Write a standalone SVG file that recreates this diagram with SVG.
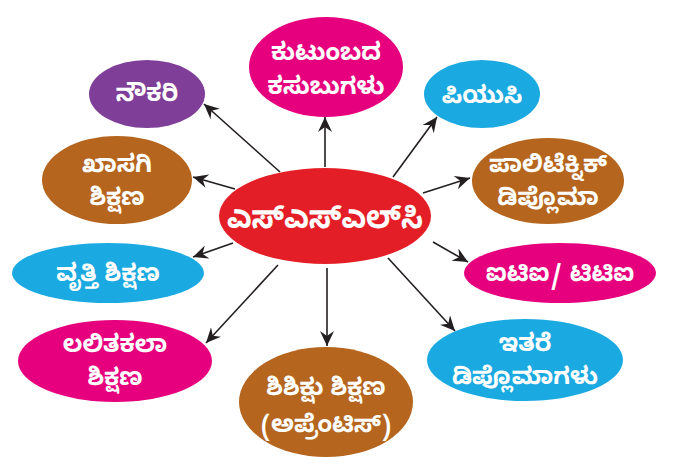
<svg xmlns="http://www.w3.org/2000/svg" width="680" height="472" viewBox="0 0 680 472">
<defs>
<marker id="ah" markerUnits="userSpaceOnUse" markerWidth="16" markerHeight="14" refX="15" refY="7" orient="auto">
<path d="M0,0 L15,7 L0,14 L5,7 Z" fill="#231f20"/>
</marker>
<style>
.t{font-family:"Noto Sans Kannada","Lohit Kannada","Noto Sans","DejaVu Sans",sans-serif;font-weight:bold;fill:#fff;text-anchor:middle;font-size:24px}
.big{font-size:32px}
.c{stroke:#231f20;stroke-width:1.6;fill:none;marker-end:url(#ah)}
.mag{fill:#e6007e}.cy{fill:#1ba9e1}.br{fill:#b5651d}.pu{fill:#7f3f98}.rd{fill:#e41e26}
</style>
</defs>
<rect width="680" height="472" fill="#fff"/>
<g id="connectors">
<line class="c" x1="280" y1="172" x2="204" y2="104"/>
<line class="c" x1="325" y1="167" x2="325" y2="117"/>
<line class="c" x1="393" y1="177" x2="437" y2="117"/>
<line class="c" x1="235" y1="189" x2="193" y2="177"/>
<line class="c" x1="423" y1="193" x2="470" y2="178"/>
<line class="c" x1="233" y1="243" x2="193" y2="257"/>
<line class="c" x1="433" y1="242" x2="468" y2="262"/>
<line class="c" x1="278" y1="265" x2="206" y2="343"/>
<line class="c" x1="327" y1="268" x2="327" y2="346"/>
<line class="c" x1="388" y1="258" x2="455" y2="331"/>
</g>
<g id="sslc">
<ellipse class="rd" cx="325" cy="216" rx="106" ry="48"/>
<text class="t big" x="325" y="228" textLength="196" lengthAdjust="spacingAndGlyphs">ಎಸ್‌ಎಸ್‌ಎಲ್‌ಸಿ</text>
</g>
<g id="kutumba">
<ellipse class="mag" cx="326" cy="67" rx="77" ry="50"/>
<text class="t" x="326" y="60">ಕುಟುಂಬದ</text>
<text class="t" x="326" y="94">ಕಸುಬುಗಳು</text>
</g>
<g id="naukari">
<ellipse class="pu" cx="147" cy="94" rx="58" ry="34"/>
<text class="t" x="147" y="101">ನೌಕರಿ</text>
</g>
<g id="puc">
<ellipse class="cy" cx="482" cy="94" rx="58" ry="34"/>
<text class="t" x="482" y="103">ಪಿಯುಸಿ</text>
</g>
<g id="khasagi">
<ellipse class="br" cx="117" cy="180" rx="75" ry="44"/>
<text class="t" x="117" y="172">ಖಾಸಗಿ</text>
<text class="t" x="117" y="205">ಶಿಕ್ಷಣ</text>
</g>
<g id="polytechnic">
<ellipse class="br" cx="548" cy="181" rx="76" ry="43"/>
<text class="t" x="548" y="172" textLength="118" lengthAdjust="spacingAndGlyphs">ಪಾಲಿಟೆಕ್ನಿಕ್</text>
<text class="t" x="548" y="205">ಡಿಪ್ಲೊಮಾ</text>
</g>
<g id="vrutti">
<ellipse class="cy" cx="108" cy="273" rx="96" ry="30"/>
<text class="t" x="108" y="281">ವೃತ್ತಿ ಶಿಕ್ಷಣ</text>
</g>
<g id="iti">
<ellipse class="mag" cx="560" cy="273" rx="96" ry="30"/>
<text class="t" x="560" y="281">ಐಟಿಐ/ ಟಿಟಿಐ</text>
</g>
<g id="lalitakala">
<ellipse class="mag" cx="115" cy="361" rx="97" ry="41"/>
<text class="t" x="115" y="352">ಲಲಿತಕಲಾ</text>
<text class="t" x="115" y="385">ಶಿಕ್ಷಣ</text>
</g>
<g id="apprentice">
<ellipse class="br" cx="326" cy="402" rx="87" ry="55"/>
<text class="t" x="326" y="395">ಶಿಶಿಕ್ಷು ಶಿಕ್ಷಣ</text>
<text class="t" x="326" y="432">(ಅಪ್ರೆಂಟಿಸ್)</text>
</g>
<g id="itare">
<ellipse class="cy" cx="525" cy="360" rx="98" ry="41"/>
<text class="t" x="525" y="351">ಇತರೆ</text>
<text class="t" x="525" y="384">ಡಿಪ್ಲೊಮಾಗಳು</text>
</g>
</svg>
